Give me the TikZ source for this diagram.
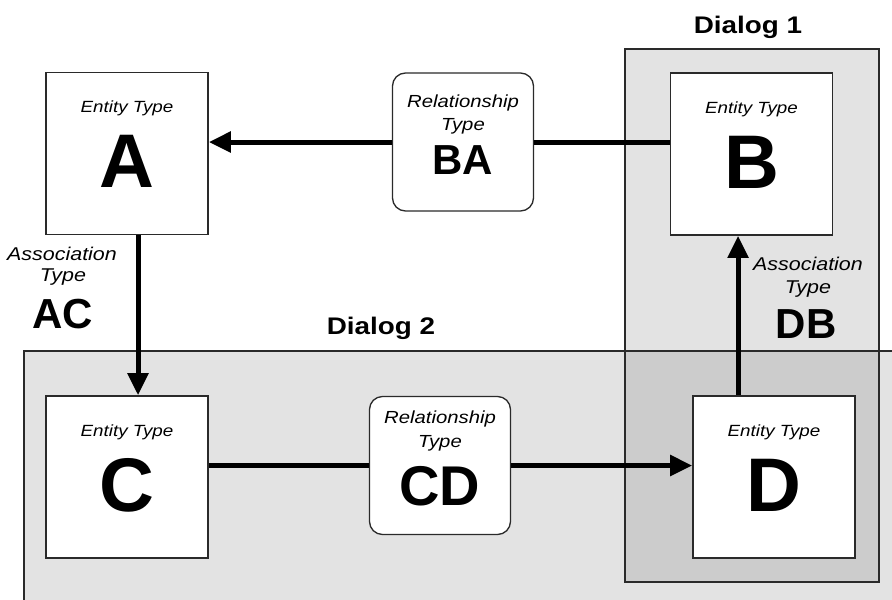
\documentclass[tikz,border=0pt]{standalone}
\usepackage{fontspec}
\setmainfont{Liberation Sans}
\newfontfamily\widefont[FakeStretch=1.16]{Liberation Sans}
\usetikzlibrary{arrows.meta}
\definecolor{panel}{HTML}{E3E3E3}
\definecolor{panelboth}{HTML}{CCCCCC}
\definecolor{edge}{HTML}{2A2A2A}
\begin{document}
\begin{tikzpicture}[x=1pt,y=-1pt,
  entity/.style={draw=edge, line width=1.6pt, fill=white,
    minimum width=162pt, minimum height=162pt, inner sep=0pt},
  relation/.style={draw=edge, line width=1.3pt, fill=white, rounded corners=13pt,
    minimum width=141pt, minimum height=138pt, inner sep=0pt},
  dialogedge/.style={draw=edge, line width=1.5pt},
  entcap/.style={anchor=base, inner sep=0pt, font=\widefont\itshape\fontsize{16.2}{17}\selectfont},
  relcap/.style={anchor=base, inner sep=0pt, font=\widefont\itshape\fontsize{17.5}{18}\selectfont},
  asscap/.style={anchor=base, inner sep=0pt, font=\widefont\itshape\fontsize{18.5}{19}\selectfont},
  dialogtitle/.style={anchor=base, inner sep=0pt, font=\widefont\bfseries\fontsize{24}{26}\selectfont},
  bigletter/.style={anchor=base, inner sep=0pt, font=\bfseries\fontsize{76}{80}\selectfont},
  midletter/.style={anchor=base, inner sep=0pt, font=\bfseries\fontsize{42}{44}\selectfont},
  link/.style={line width=5pt},
  arrowlink/.style={link, -{Triangle[length=22pt,width=20pt]}},
]
\useasboundingbox (0,0) rectangle (892,600);
\fill[white] (0,0) rectangle (892,600);

% dialog regions
\begin{scope}
  \clip (0,0) rectangle (892,600);
  \fill[panel] (24,351) rectangle (900,610);
  \fill[panel] (625,49) rectangle (879,582);
  \fill[panelboth] (625,351) rectangle (879,582);
  \draw[dialogedge] (24,610) -- (24,351) -- (900,351);
  \draw[dialogedge] (625,49) rectangle (879,582);
\end{scope}
\node[dialogtitle] (dlgone) at (748,33) {Dialog 1};
\node[dialogtitle] (dlgtwo) at (381,334) {Dialog 2};

% entity types
\node[entity] (A) at (127,153.5) {};
\node[entity] (B) at (751.5,154) {};
\node[entity] (C) at (127,477) {};
\node[entity] (D) at (774,477) {};

% relationship types
\node[relation] (BA) at (463,142) {};
\node[relation] (CD) at (440,465.5) {};

% texts inside the entity boxes
\node[entcap] (Acap) at (127,112.5) {Entity Type};
\node[bigletter] (Alet) at (127,187) {A};
\node[entcap] (Bcap) at (751.5,113) {Entity Type};
\node[bigletter] (Blet) at (751.5,188) {B};
\node[entcap] (Ccap) at (127,436) {Entity Type};
\node[bigletter] (Clet) at (127,511) {C};
\node[entcap] (Dcap) at (774,436) {Entity Type};
\node[bigletter] (Dlet) at (774,511) {D};

% texts inside the relationship boxes
\node[relcap] (BAcapa) at (463,107) {Relationship};
\node[relcap] (BAcapb) at (463,130) {Type};
\node[midletter] (BAlet) at (463,174) {BA};
\node[relcap] (CDcapa) at (440,423.5) {Relationship};
\node[relcap] (CDcapb) at (440,447.5) {Type};
\node[midletter] (CDlet) at (440,505) {\fontsize{56}{58}\selectfont CD};

% association labels
\node[asscap] (ACcapa) at (62,260) {Association};
\node[asscap] (ACcapb) at (63,281) {Type};
\node[midletter] (AClet) at (62.5,328) {AC};
\node[asscap] (DBcapa) at (808,270) {Association};
\node[asscap] (DBcapb) at (808,293) {Type};
\node[midletter] (DBlet) at (806,338) {DB};

% connectors
\draw[link] (B.west |- BA.east) -- (BA.east);
\draw[arrowlink] (BA.west) -- (BA.west -| A.east);
\draw[arrowlink] ([xshift=11pt]A.south) -- ([xshift=11pt]C.north);
\draw[link] (C.east |- CD.west) -- (CD.west);
\draw[arrowlink] (CD.east) -- (CD.east -| D.west);
\draw[arrowlink] ([xshift=-36pt]D.north) -- ([xshift=-36pt]D.north |- B.south);
\end{tikzpicture}
\end{document}
